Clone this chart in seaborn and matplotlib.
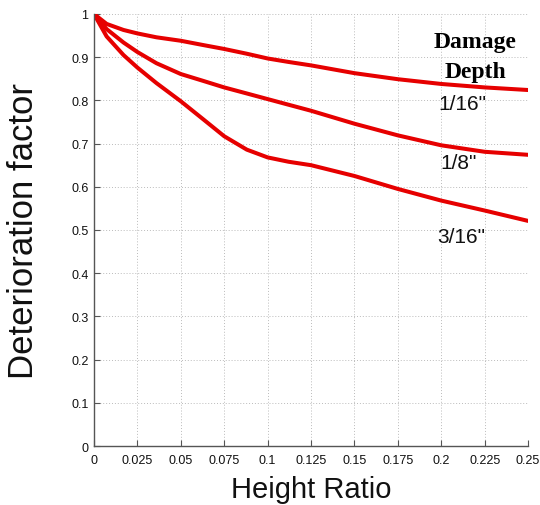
import numpy as np
import pandas as pd
import matplotlib
matplotlib.use("Agg")
import matplotlib.pyplot as plt
import seaborn as sns

x_vals = [0.0, 0.0073, 0.017, 0.025, 0.036, 0.05, 0.063, 0.075, 0.088, 0.1,
          0.112, 0.125, 0.15, 0.175, 0.2, 0.225, 0.25]
d_1_16 = [1.0, 0.977, 0.963, 0.955, 0.946, 0.938, 0.928, 0.919, 0.908, 0.897,
          0.889, 0.881, 0.863, 0.849, 0.838, 0.830, 0.824]
d_1_8 = [1.0, 0.965, 0.934, 0.912, 0.886, 0.861, 0.845, 0.830, 0.816, 0.803,
         0.790, 0.776, 0.746, 0.719, 0.696, 0.681, 0.674]
d_3_16 = [1.0, 0.948, 0.905, 0.876, 0.840, 0.798, 0.756, 0.717, 0.686, 0.668,
          0.658, 0.650, 0.625, 0.595, 0.568, 0.545, 0.521]
depth_labels = ['1/16"', '1/8"', '3/16"']
x_ticks = [0, 0.025, 0.05, 0.075, 0.1, 0.125, 0.15, 0.175, 0.2, 0.225, 0.25]
x_tick_labels = ["0", "0.025", "0.05", "0.075", "0.1", "0.125", "0.15", "0.175", "0.2", "0.225", "0.25"]
y_ticks = [0, 0.1, 0.2, 0.3, 0.4, 0.5, 0.6, 0.7, 0.8, 0.9, 1.0]
y_tick_labels = ["0", "0.1", "0.2", "0.3", "0.4", "0.5", "0.6", "0.7", "0.8", "0.9", "1"]

df = pd.concat([
    pd.DataFrame({"x": x_vals, "y": d_1_16, "depth": depth_labels[0]}),
    pd.DataFrame({"x": x_vals, "y": d_1_8, "depth": depth_labels[1]}),
    pd.DataFrame({"x": x_vals, "y": d_3_16, "depth": depth_labels[2]}),
])

sns.set_theme(style="white")
plt.rcParams['font.family'] = ['Liberation Sans', 'DejaVu Sans']

fig = plt.figure(figsize=(5.4, 5.06), dpi=100)
ax = fig.add_axes([0.174, 0.1166, 0.804, 0.8538])

sns.lineplot(data=df, x="x", y="y", hue="depth", palette=["#e60000"] * 3,
             linewidth=2.9, legend=False, ax=ax, estimator=None, sort=True)
for ln in ax.lines:
    ln.set_solid_joinstyle("round")
    ln.set_solid_capstyle("round")

ax.set_xlim(0, 0.25)
ax.set_ylim(0, 1)
ax.set_xticks(x_ticks)
ax.set_xticklabels(x_tick_labels)
ax.set_yticks(y_ticks)
ax.set_yticklabels(y_tick_labels)
ax.tick_params(axis="both", direction="in", length=4, width=0.8, labelsize=9,
               colors="#555555", labelcolor="#111111", bottom=True, left=True)
ax.tick_params(axis="x", pad=6)
ax.tick_params(axis="y", pad=4)
ax.grid(True, linestyle=(0, (1, 2)), color="#bbbbbb", linewidth=0.7)
for s in ["top", "right"]:
    ax.spines[s].set_visible(False)
for s in ["left", "bottom"]:
    ax.spines[s].set_color("#555555")
    ax.spines[s].set_linewidth(1.0)

ax.set_xlabel("Height Ratio", fontsize=21, color="#111111", labelpad=6)
ax.set_ylabel("Deterioration factor", fontsize=25, color="#111111", labelpad=22)

serif = ["Liberation Serif", "DejaVu Serif"]
ax.text(0.2195, 0.937, "Damage", fontsize=17, fontweight="bold",
        family=serif, ha="center", va="center", color="black")
ax.text(0.2195, 0.866, "Depth", fontsize=17, fontweight="bold",
        family=serif, ha="center", va="center", color="black")
ax.text(0.212, 0.792, depth_labels[0], fontsize=15, ha="center", va="center", color="#111111")
ax.text(0.210, 0.657, depth_labels[1], fontsize=15, ha="center", va="center", color="#111111")
ax.text(0.2115, 0.484, depth_labels[2], fontsize=15, ha="center", va="center", color="#111111")

fig.savefig("out.png", dpi=100)
